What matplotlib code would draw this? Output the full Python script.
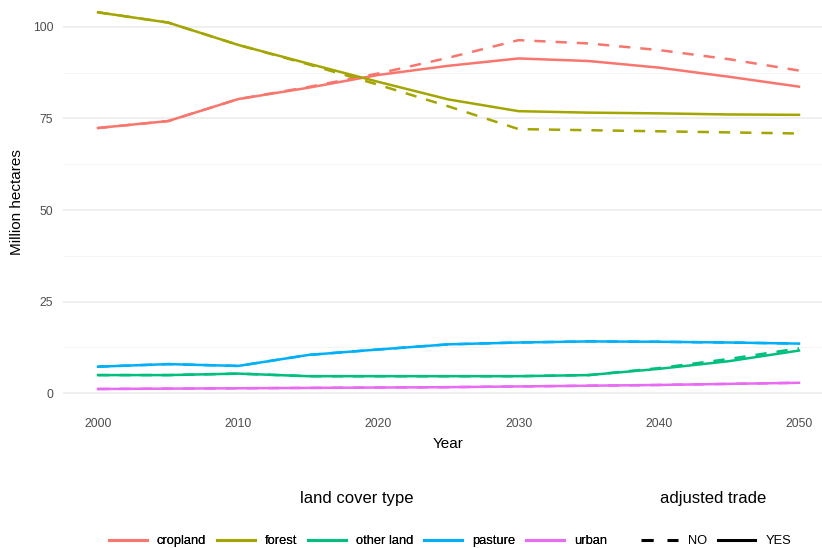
import matplotlib.pyplot as plt
from matplotlib.lines import Line2D

plt.rcParams['font.family'] = ['Liberation Sans', 'DejaVu Sans']

# --- DATA ---
years = [2000, 2005, 2010, 2015, 2020, 2025, 2030, 2035, 2040, 2045, 2050]
land_types = ["cropland", "forest", "other land", "pasture", "urban"]
type_colors = ["#F8766D", "#A3A500", "#00BF7D", "#00B0F6", "#E76BF3"]

# adjusted trade = YES (solid)
cropland_yes = [72.4, 74.3, 80.3, 83.4, 86.9, 89.4, 91.4, 90.7, 88.9, 86.4, 83.7]
forest_yes = [104.0, 101.2, 95.1, 90.0, 85.0, 80.2, 77.0, 76.6, 76.4, 76.1, 76.0]
other_yes = [4.9, 4.9, 5.3, 4.6, 4.6, 4.6, 4.6, 4.9, 6.6, 8.7, 11.6]
pasture_yes = [7.2, 7.9, 7.4, 10.4, 11.9, 13.3, 13.8, 14.1, 14.0, 13.8, 13.5]
urban_yes = [1.1, 1.2, 1.3, 1.4, 1.5, 1.6, 1.8, 2.0, 2.2, 2.5, 2.8]

# adjusted trade = NO (dashed)
cropland_no = [72.4, 74.3, 80.3, 83.6, 87.3, 91.6, 96.4, 95.5, 93.7, 91.2, 88.1]
forest_no = [104.0, 101.2, 95.1, 89.8, 84.2, 78.3, 72.1, 71.8, 71.5, 71.2, 70.9]
other_no = [4.9, 4.9, 5.3, 4.6, 4.6, 4.6, 4.6, 4.9, 6.8, 9.3, 12.2]
pasture_no = [7.2, 7.9, 7.4, 10.4, 11.9, 13.3, 13.8, 14.1, 14.0, 13.8, 13.5]
urban_no = [1.1, 1.2, 1.3, 1.4, 1.5, 1.6, 1.8, 2.0, 2.2, 2.5, 2.8]

series_yes = [cropland_yes, forest_yes, other_yes, pasture_yes, urban_yes]
series_no = [cropland_no, forest_no, other_no, pasture_no, urban_no]

# --- PLOT ---
W, H = 822, 548
fig = plt.figure(figsize=(W / 100, H / 100), dpi=100)
ax = fig.add_axes([63 / W, (H - 408.4) / H, 771 / W, 415.1 / H])

dash = (0, (4.5, 4))
for vals, col in zip(series_no, type_colors):
    ax.plot(years, vals, color=col, lw=1.8, linestyle=dash, solid_capstyle='butt')
for vals, col in zip(series_yes, type_colors):
    ax.plot(years, vals, color=col, lw=1.8, linestyle='-')

ax.set_xlim(1997.5, 2052.5)
ax.set_ylim(-4.2, 109.2)
ax.set_xticks([2000, 2010, 2020, 2030, 2040, 2050])
ax.set_yticks([0, 25, 50, 75, 100])
ax.set_yticks([12.5, 37.5, 62.5, 87.5], minor=True)

ax.grid(axis='y', which='major', color='#EBEBEB', lw=1.1)
ax.grid(axis='y', which='minor', color='#F2F2F2', lw=0.6)
ax.set_axisbelow(True)
for s in ax.spines.values():
    s.set_visible(False)
ax.tick_params(axis='both', which='both', length=0, labelsize=8.8,
               labelcolor='#4D4D4D', pad=7)

ax.set_xlabel("Year", fontsize=11)
ax.set_ylabel("Million hectares", fontsize=11)
ax.xaxis.set_label_coords(0.5, (408.4 - 437) / 415.1)
ax.yaxis.set_label_coords((24 - 63) / 771, (408.4 - 202) / 415.1)

# --- LEGENDS ---
type_handles = [Line2D([], [], color=c, lw=2.2) for c in type_colors]
leg1 = fig.legend(type_handles, land_types, loc='center',
                  bbox_to_anchor=(358 / W, 1 - 541 / H), ncol=5, frameon=False,
                  fontsize=9.3, handlelength=2.9, handletextpad=0.8,
                  columnspacing=0.85, borderaxespad=0, borderpad=0)
fig.add_artist(leg1)

trade_handles = [Line2D([], [], color='black', lw=2.2, linestyle=(0, (4, 4.5))),
                 Line2D([], [], color='black', lw=2.2)]
fig.legend(trade_handles, ["NO", "YES"], loc='center',
           bbox_to_anchor=(716 / W, 1 - 541 / H), ncol=2, frameon=False,
           fontsize=9.3, handlelength=2.9, handletextpad=0.8,
           columnspacing=0.8, borderaxespad=0, borderpad=0)

fig.text(357 / W, 1 - 499 / H, "land cover type", fontsize=12,
         ha='center', va='center')
fig.text(713 / W, 1 - 499 / H, "adjusted trade", fontsize=12,
         ha='center', va='center')

fig.savefig("out.png", dpi=100)
